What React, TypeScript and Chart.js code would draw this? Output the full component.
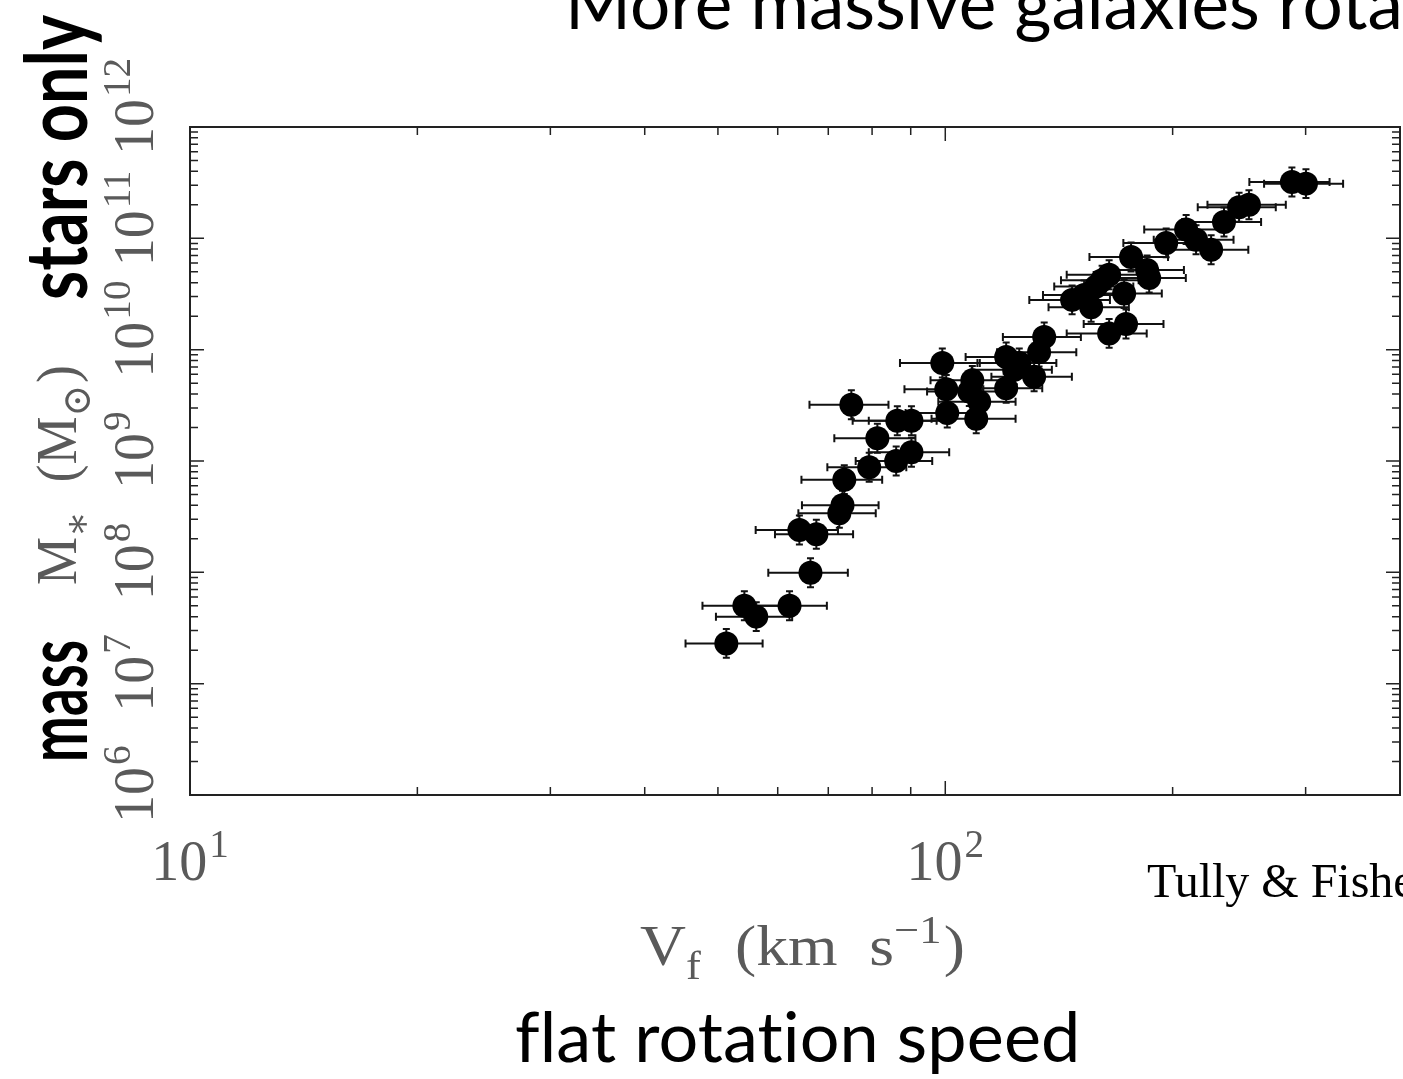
import React, { useEffect, useRef } from "react";
import { Chart, registerables } from "chart.js";

Chart.register(...registerables);

// ---- data (flat rotation speed in km/s, stellar mass in solar masses) ----
const rotationSpeed = [
  51.3, 54.2, 56.2, 62.2, 66.3, 64.1, 67.5, 72.4, 73.1, 73.5,
  75.1, 79.3, 81.3, 86.1, 90.2, 86.4, 90.2, 100.3, 100.6, 99.1,
  108.6, 109.9, 107.6, 110.9, 120.4, 120.4, 125.3, 131.1, 135.2, 133.1,
  147.2, 156.0, 158.4, 164.8, 176.2, 185.0, 164.8, 173.5, 172.5, 152.7,
  161.3, 186.2, 196.1, 208.4, 214.8, 224.9, 233.9, 244.9, 252.4, 287.7,
  300.3, 123.4,
];
const stellarMass = [
  2.3e7, 5.0e7, 4.0e7, 5.0e7, 9.9e7, 2.4e8, 2.2e8, 3.4e8, 4.0e8, 6.8e8,
  3.2e9, 8.8e8, 1.6e9, 1.0e9, 1.2e9, 2.3e9, 2.3e9, 4.4e9, 2.7e9, 7.6e9,
  5.3e9, 2.4e9, 4.2e9, 3.4e9, 8.6e9, 4.5e9, 7.6e9, 5.7e9, 1.3e10, 9.5e9,
  2.8e10, 2.4e10, 3.7e10, 4.7e10, 6.8e10, 5.2e10, 1.4e10, 1.7e10, 3.2e10, 3.1e10,
  4.2e10, 4.4e10, 9.1e10, 1.2e11, 9.7e10, 7.9e10, 1.4e11, 1.9e11, 2.0e11, 3.2e11,
  3.1e11, 6.6e9,
];
const speedError = [
  6, 6.5, 6.5, 7.5, 8, 8, 8, 8.5, 8.5, 9,
  9, 9.5, 10, 10, 11, 11, 11, 12, 12, 12,
  13, 14, 13, 13, 14, 14, 15, 16, 16, 16,
  18, 19, 19, 20, 21, 22, 20, 21, 21, 18,
  19, 22, 24, 25, 26, 27, 28, 29, 30, 35,
  36, 15,
];
const massErrorDex = [
  0.13, 0.13, 0.13, 0.13, 0.13, 0.13, 0.13, 0.13, 0.13, 0.13,
  0.13, 0.13, 0.13, 0.13, 0.13, 0.13, 0.13, 0.13, 0.13, 0.13,
  0.13, 0.13, 0.13, 0.13, 0.13, 0.13, 0.13, 0.13, 0.13, 0.13,
  0.13, 0.13, 0.13, 0.13, 0.13, 0.13, 0.13, 0.13, 0.13, 0.13,
  0.13, 0.13, 0.13, 0.13, 0.13, 0.13, 0.13, 0.13, 0.13, 0.13,
  0.13, 0.13,
];

const xMin = 10;
const xMax = 400;
const yMin = 1e6;
const yMax = 1e12;

const xTickValues = [10, 100];
const xTickExponents = ["1", "2"];
const yTickValues = [1e6, 1e7, 1e8, 1e9, 1e10, 1e11, 1e12];
const yTickExponents = ["6", "7", "8", "9", "10", "11", "12"];

const titleText = "More massive galaxies rotate faster";
const titleVisiblePart = "More massive galaxies rota";
// zero-width non-joiners keep "fl" / "ti" from turning into ligatures
const bottomCaption = "f\u200Clat rotat\u200Cion speed";
const sideWordLower = "mass";
const sideWordUpper = "stars only";
const creditText = "Tully & Fisher";

type Part = { text: string; kind?: "sup" | "sub" };
const xAxisTitle: Part[] = [
  { text: "V" },
  { text: "f", kind: "sub" },
  { text: "  (km  s" },
  { text: "\u22121", kind: "sup" },
  { text: ")" },
];
const yAxisTitle: Part[] = [
  { text: "M" },
  { text: "\u2217", kind: "sub" },
  { text: "  (M" },
  { text: "\u2299", kind: "sub" },
  { text: ")" },
];

const SERIF = '"Liberation Serif", "DejaVu Serif", serif';
const SANS = 'Lato, "Noto Sans", sans-serif';
const LABEL_GREY = "#5a5a5a";

function richWidth(ctx: CanvasRenderingContext2D, parts: Part[], size: number) {
  let w = 0;
  for (const p of parts) {
    const s = p.kind ? size * 0.7 : size;
    ctx.font = `${s}px ${SERIF}`;
    w += ctx.measureText(p.text).width + (p.kind ? 2 : 0);
  }
  return w;
}

function drawRich(ctx: CanvasRenderingContext2D, parts: Part[], x: number, y: number, size: number, stretch: number) {
  ctx.save();
  ctx.translate(x, y);
  ctx.scale(stretch, 1);
  let cx = 0;
  for (const p of parts) {
    const s = p.kind ? size * 0.7 : size;
    ctx.font = `${s}px ${SERIF}`;
    const dy = p.kind === "sup" ? -size * 0.4 : p.kind === "sub" ? size * 0.25 : 0;
    ctx.fillText(p.text, cx, dy);
    cx += ctx.measureText(p.text).width + (p.kind ? 2 : 0);
  }
  ctx.restore();
}

function fitSize(ctx: CanvasRenderingContext2D, text: string, family: string, weight: string, target: number) {
  ctx.font = `${weight} 100px ${family}`;
  const w = ctx.measureText(text).width;
  return (100 * target) / w;
}

const decorPlugin = {
  id: "decor",
  beforeDatasetsDraw(chart: any) {
    const ctx: CanvasRenderingContext2D = chart.ctx;
    const xs = chart.scales.x;
    const ys = chart.scales.y;
    const area = chart.chartArea;
    ctx.save();
    ctx.beginPath();
    ctx.rect(area.left, area.top, area.right - area.left, area.bottom - area.top);
    ctx.clip();
    ctx.strokeStyle = "#111";
    ctx.lineWidth = 2;
    for (let i = 0; i < rotationSpeed.length; i++) {
      const v = rotationSpeed[i];
      const m = stellarMass[i];
      const e = speedError[i];
      const d = Math.pow(10, massErrorDex[i]);
      const px = xs.getPixelForValue(v);
      const py = ys.getPixelForValue(m);
      const xl = xs.getPixelForValue(v - e);
      const xr = xs.getPixelForValue(v + e);
      const yt = ys.getPixelForValue(m * d);
      const yb = ys.getPixelForValue(m / d);
      ctx.beginPath();
      ctx.moveTo(xl, py);
      ctx.lineTo(xr, py);
      ctx.moveTo(xl, py - 4);
      ctx.lineTo(xl, py + 4);
      ctx.moveTo(xr, py - 4);
      ctx.lineTo(xr, py + 4);
      ctx.moveTo(px, yt);
      ctx.lineTo(px, yb);
      ctx.moveTo(px - 3.5, yt);
      ctx.lineTo(px + 3.5, yt);
      ctx.moveTo(px - 3.5, yb);
      ctx.lineTo(px + 3.5, yb);
      ctx.stroke();
    }
    ctx.restore();
  },
  afterDraw(chart: any) {
    const ctx: CanvasRenderingContext2D = chart.ctx;
    const xs = chart.scales.x;
    const ys = chart.scales.y;
    const { left, right, top, bottom } = chart.chartArea;
    ctx.save();

    // frame
    ctx.strokeStyle = "#222";
    ctx.lineWidth = 2;
    ctx.strokeRect(left, top, right - left, bottom - top);

    // inward log ticks
    ctx.lineWidth = 1.5;
    ctx.beginPath();
    for (let e = Math.floor(Math.log10(xMin)); e <= Math.ceil(Math.log10(xMax)); e++) {
      for (let k = 1; k <= 9; k++) {
        const v = k * Math.pow(10, e);
        if (v < xMin || v > xMax) continue;
        const p = xs.getPixelForValue(v);
        const len = k === 1 ? 14 : 8;
        ctx.moveTo(p, bottom);
        ctx.lineTo(p, bottom - len);
        ctx.moveTo(p, top);
        ctx.lineTo(p, top + len);
      }
    }
    for (let e = Math.floor(Math.log10(yMin)); e <= Math.ceil(Math.log10(yMax)); e++) {
      for (let k = 1; k <= 9; k++) {
        const v = k * Math.pow(10, e);
        if (v < yMin || v > yMax) continue;
        const p = ys.getPixelForValue(v);
        const len = k === 1 ? 14 : 8;
        ctx.moveTo(left, p);
        ctx.lineTo(left + len, p);
        ctx.moveTo(right, p);
        ctx.lineTo(right - len, p);
      }
    }
    ctx.stroke();

    // tick labels
    const tickSize = 56;
    const supSize = tickSize * 0.7;
    ctx.fillStyle = LABEL_GREY;
    ctx.textBaseline = "alphabetic";
    ctx.textAlign = "left";
    for (let i = 0; i < xTickValues.length; i++) {
      const p = xs.getPixelForValue(xTickValues[i]);
      ctx.font = `${tickSize}px ${SERIF}`;
      const w1 = ctx.measureText("10").width;
      ctx.font = `${supSize}px ${SERIF}`;
      const w2 = ctx.measureText(xTickExponents[i]).width;
      const start = p - (w1 + w2 + 2) / 2;
      ctx.font = `${tickSize}px ${SERIF}`;
      ctx.fillText("10", start, bottom + 85);
      ctx.font = `${supSize}px ${SERIF}`;
      ctx.fillText(xTickExponents[i], start + w1 + 2, bottom + 85 - 23);
    }
    for (let i = 0; i < yTickValues.length; i++) {
      const p = ys.getPixelForValue(yTickValues[i]);
      ctx.save();
      ctx.translate(153, p);
      ctx.rotate(-Math.PI / 2);
      ctx.font = `${tickSize}px ${SERIF}`;
      const w1 = ctx.measureText("10").width;
      ctx.fillText("10", -w1 / 2, 0);
      ctx.font = `${supSize}px ${SERIF}`;
      ctx.fillText(yTickExponents[i], w1 / 2 + 2, -23);
      ctx.restore();
    }

    // axis titles (grey serif)
    const titleFont = 56;
    const xw = richWidth(ctx, xAxisTitle, titleFont);
    drawRich(ctx, xAxisTitle, 640, 965, titleFont, 325 / xw);
    ctx.save();
    ctx.translate(76, 585);
    ctx.rotate(-Math.PI / 2);
    const yw = richWidth(ctx, yAxisTitle, titleFont);
    drawRich(ctx, yAxisTitle, 0, 0, titleFont, 220 / yw);
    ctx.restore();

    // slide texts
    ctx.fillStyle = "#000";
    const ts = fitSize(ctx, titleVisiblePart, SANS, "400", 838);
    ctx.font = `400 ${ts}px ${SANS}`;
    ctx.fillText(titleText, 565, 29);

    ctx.save();
    (ctx as any).letterSpacing = "0.1px";
    const bs = fitSize(ctx, bottomCaption, SANS, "400", 565);
    ctx.font = `400 ${bs}px ${SANS}`;
    ctx.fillText(bottomCaption, 515, 1062);
    ctx.restore();

    const sideSize = 86;
    ctx.save();
    ctx.translate(87, 762);
    ctx.rotate(-Math.PI / 2);
    ctx.font = `700 ${sideSize}px ${SANS}`;
    const wm = ctx.measureText(sideWordLower).width;
    ctx.scale(122 / wm, 1);
    ctx.fillText(sideWordLower, 0, 0);
    ctx.restore();
    ctx.save();
    ctx.translate(87, 300);
    ctx.rotate(-Math.PI / 2);
    ctx.font = `700 ${sideSize}px ${SANS}`;
    const ws = ctx.measureText(sideWordUpper).width;
    ctx.scale(285 / ws, 1);
    ctx.fillText(sideWordUpper, 0, 0);
    ctx.restore();

    ctx.font = `48px "Liberation Serif", "Times New Roman", serif`;
    ctx.fillText(creditText, 1147, 897);

    ctx.restore();
  },
};

export default function App() {
  const canvasRef = useRef<HTMLCanvasElement | null>(null);

  useEffect(() => {
    const canvas = canvasRef.current;
    if (!canvas) return;
    const points = rotationSpeed.map((v, i) => ({ x: v, y: stellarMass[i] }));
    const chart = new Chart(canvas, {
      type: "scatter",
      data: {
        datasets: [
          {
            data: points,
            pointRadius: 12,
            pointHoverRadius: 12,
            backgroundColor: "#000",
            borderColor: "#000",
            borderWidth: 0,
          },
        ],
      },
      options: {
        animation: false,
        responsive: false,
        devicePixelRatio: 1,
        events: [],
        layout: { autoPadding: false, padding: { left: 190, top: 127, right: 3, bottom: 284 } },
        plugins: { legend: { display: false }, tooltip: { enabled: false } },
        scales: {
          x: { type: "logarithmic", min: xMin, max: xMax, display: false },
          y: { type: "logarithmic", min: yMin, max: yMax, display: false },
        },
      },
      plugins: [decorPlugin],
    });
    return () => chart.destroy();
  }, []);

  return (
    <div style={{ position: "absolute", left: 0, top: 0, width: 1403, height: 1079, overflow: "hidden", background: "#fff" }}>
      <canvas ref={canvasRef} width={1403} height={1079} style={{ width: 1403, height: 1079, display: "block" }} />
    </div>
  );
}
